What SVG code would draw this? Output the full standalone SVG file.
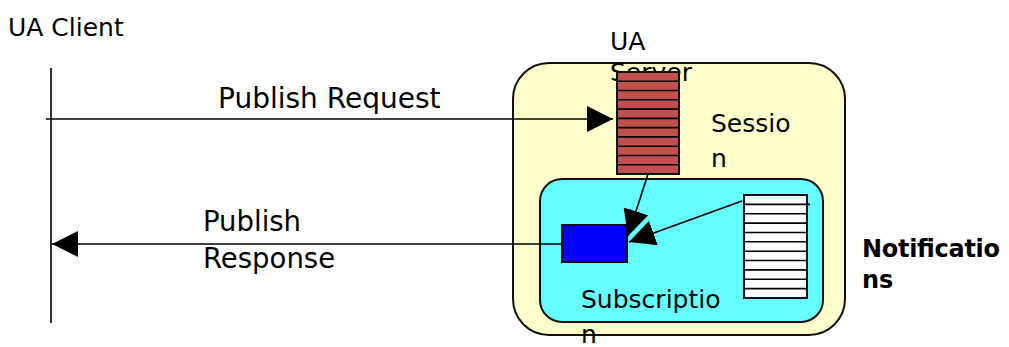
<svg xmlns="http://www.w3.org/2000/svg" width="1009" height="347" viewBox="0 0 1009 347">
<style>
text{font-family:"DejaVu Sans",Verdana,sans-serif;fill:#000}
.ln{stroke:#000;stroke-width:1.6;fill:none}
.box{stroke:#111;stroke-width:2}
.stripe{stroke:#000;stroke-width:1.6}
</style>
<defs>
<marker id="ah" markerUnits="userSpaceOnUse" markerWidth="26" markerHeight="26" viewBox="0 0 26 26" refX="26" refY="13" orient="auto">
<path d="M0,0 L26,13 L0,26 Z" fill="#000"/>
</marker>
<marker id="ah2" markerUnits="userSpaceOnUse" markerWidth="26" markerHeight="26" viewBox="0 0 26 26" refX="26" refY="13" orient="auto">
<path d="M0,0 L26,13 L0,26 Z" fill="#000"/>
</marker>
</defs>
<rect width="1009" height="347" fill="#fff"/>

<g id="ua-client">
<text x="8" y="36" font-size="25">UA Client</text>
<line class="ln" x1="51" y1="68" x2="51" y2="323"/>
</g>

<g id="ua-server">
<rect class="box" x="513" y="63" width="332" height="272" rx="36" ry="36" fill="#FFFFCC"/>
<text x="610" y="50" font-size="25">UA</text>
<text x="610" y="81" font-size="25">Server</text>
<text x="711" y="132" font-size="25">Sessio</text>
<text x="711" y="167" font-size="25">n</text>
</g>

<g id="subscription">
<rect class="box" x="540" y="179" width="283" height="143" rx="22" ry="22" fill="#66FFFF"/>
<text x="581" y="308" font-size="25">Subscriptio</text>
<text x="581" y="343" font-size="25">n</text>
</g>

<g id="session-queue">
<rect class="box" x="617" y="72" width="62" height="102" fill="#C0504D"/>
<g class="stripe">
<line x1="617" y1="81.3" x2="679" y2="81.3"/>
<line x1="617" y1="90.5" x2="679" y2="90.5"/>
<line x1="617" y1="99.8" x2="679" y2="99.8"/>
<line x1="617" y1="109.1" x2="679" y2="109.1"/>
<line x1="617" y1="118.4" x2="679" y2="118.4"/>
<line x1="617" y1="127.6" x2="679" y2="127.6"/>
<line x1="617" y1="136.9" x2="679" y2="136.9"/>
<line x1="617" y1="146.2" x2="679" y2="146.2"/>
<line x1="617" y1="155.5" x2="679" y2="155.5"/>
<line x1="617" y1="164.7" x2="679" y2="164.7"/>
</g>
</g>

<g id="notification-queue">
<rect class="box" x="744" y="195" width="63" height="103" fill="#fff"/>
<g class="stripe">
<line x1="744" y1="204.4" x2="810" y2="204.4"/>
<line x1="744" y1="213.7" x2="807" y2="213.7"/>
<line x1="744" y1="223.1" x2="807" y2="223.1"/>
<line x1="744" y1="232.5" x2="807" y2="232.5"/>
<line x1="744" y1="241.8" x2="807" y2="241.8"/>
<line x1="744" y1="251.2" x2="807" y2="251.2"/>
<line x1="744" y1="260.5" x2="807" y2="260.5"/>
<line x1="744" y1="269.9" x2="807" y2="269.9"/>
<line x1="744" y1="279.3" x2="807" y2="279.3"/>
<line x1="744" y1="288.6" x2="807" y2="288.6"/>
</g>
</g>

<g id="publish-slot">
<rect class="box" x="562" y="225" width="65" height="37" fill="#0000FF"/>
</g>

<g id="notifications-label">
<text x="862" y="257" font-size="24" font-weight="bold" textLength="138">Notificatio</text>
<text x="862" y="288" font-size="24" font-weight="bold">ns</text>
</g>

<g id="connectors">
<line class="ln" x1="46" y1="119" x2="613" y2="119" marker-end="url(#ah2)"/>
<text x="218" y="108" font-size="28">Publish Request</text>
<line class="ln" x1="562" y1="244" x2="52" y2="244" marker-end="url(#ah)"/>
<text x="203" y="231" font-size="27.5">Publish</text>
<text x="203" y="268" font-size="27.5">Response</text>
<line class="ln" x1="648" y1="174" x2="628" y2="236" marker-end="url(#ah2)"/>
<line class="ln" x1="742" y1="201" x2="629" y2="242" marker-end="url(#ah2)"/>
</g>
</svg>
